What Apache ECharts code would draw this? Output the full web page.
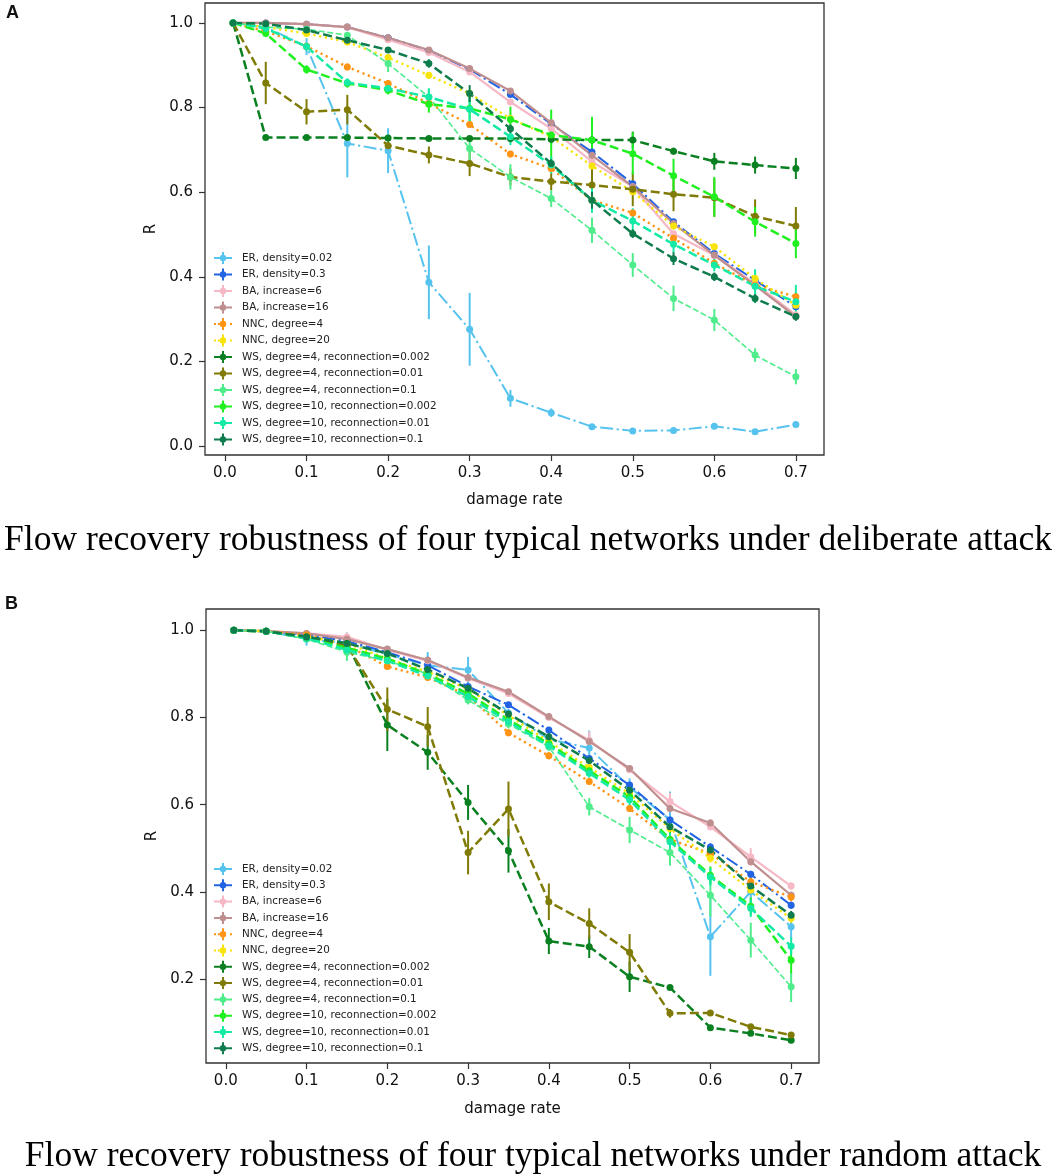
<!DOCTYPE html>
<html>
<head>
<meta charset="utf-8">
<script src="https://cdn.jsdelivr.net/npm/echarts@6/dist/echarts.min.js"></script>
<style>
html, body { margin: 0; padding: 0; background: #fff; }
#main { width: 1052px; height: 1174px; }
</style>
</head>
<body>
<div id="main"></div>
<script>
var chart = echarts.init(document.getElementById('main'), null, { renderer: 'canvas' });

// damage rate (x values), same for both panels
var damageRate = [0.01, 0.05, 0.1, 0.15, 0.2, 0.25, 0.3, 0.35, 0.4, 0.45, 0.5, 0.55, 0.6, 0.65, 0.7];
var xTicks = [0, 0.1, 0.2, 0.3, 0.4, 0.5, 0.6, 0.7];
var yTicksA = [0, 0.2, 0.4, 0.6, 0.8, 1.0];
var yTicksB = [0.2, 0.4, 0.6, 0.8, 1.0];

var seriesNames = [
  'ER, density=0.02', 'ER, density=0.3', 'BA, increase=6', 'BA, increase=16',
  'NNC, degree=4', 'NNC, degree=20',
  'WS, degree=4, reconnection=0.002', 'WS, degree=4, reconnection=0.01', 'WS, degree=4, reconnection=0.1',
  'WS, degree=10, reconnection=0.002', 'WS, degree=10, reconnection=0.01', 'WS, degree=10, reconnection=0.1'
];

// ---- panel A: deliberate attack ----
var er002A = [1.0, 0.99, 0.944, 0.715, 0.698, 0.387, 0.276, 0.113, 0.079, 0.046, 0.036, 0.037, 0.047, 0.034, 0.051];
var er03A = [1.0, 1.0, 0.997, 0.99, 0.965, 0.935, 0.89, 0.831, 0.761, 0.695, 0.62, 0.53, 0.455, 0.392, 0.329];
var ba6A = [1.0, 1.0, 0.997, 0.99, 0.96, 0.93, 0.884, 0.813, 0.75, 0.672, 0.613, 0.502, 0.451, 0.384, 0.31];
var ba16A = [1.0, 1.0, 0.997, 0.99, 0.965, 0.936, 0.892, 0.839, 0.764, 0.687, 0.613, 0.526, 0.451, 0.38, 0.306];
var nnc4A = [1.0, 0.98, 0.945, 0.896, 0.857, 0.81, 0.76, 0.69, 0.656, 0.581, 0.551, 0.491, 0.432, 0.38, 0.353];
var nnc20A = [1.0, 0.99, 0.975, 0.955, 0.918, 0.876, 0.833, 0.774, 0.731, 0.662, 0.601, 0.52, 0.471, 0.396, 0.333];
var ws4r0002A = [1.0, 0.729, 0.729, 0.729, 0.728, 0.727, 0.727, 0.727, 0.725, 0.723, 0.723, 0.697, 0.673, 0.664, 0.656];
var ws4r001A = [1.0, 0.858, 0.79, 0.795, 0.71, 0.688, 0.668, 0.636, 0.625, 0.617, 0.607, 0.595, 0.587, 0.543, 0.52];
var ws4r01A = [1.0, 0.99, 0.985, 0.971, 0.904, 0.825, 0.703, 0.636, 0.585, 0.51, 0.428, 0.349, 0.298, 0.215, 0.164];
var ws10r0002A = [1.0, 0.975, 0.89, 0.857, 0.841, 0.808, 0.798, 0.772, 0.735, 0.723, 0.691, 0.639, 0.589, 0.53, 0.479];
var ws10r001A = [1.0, 0.987, 0.944, 0.859, 0.845, 0.825, 0.796, 0.731, 0.664, 0.581, 0.532, 0.477, 0.428, 0.378, 0.341];
var ws10r01A = [1.0, 0.998, 0.983, 0.959, 0.936, 0.904, 0.833, 0.75, 0.668, 0.581, 0.502, 0.443, 0.4, 0.349, 0.306];

// error bar half lengths, panel A
var er002AErr = [0, 0.005, 0.02, 0.08, 0.053, 0.087, 0.086, 0.02, 0.01, 0.005, 0.004, 0.005, 0.005, 0.005, 0.005];
var er03AErr = [0, 0, 0.003, 0.004, 0.005, 0.005, 0.005, 0.006, 0.006, 0.006, 0.006, 0.006, 0.006, 0.006, 0.006];
var ba6AErr = [0, 0, 0.003, 0.004, 0.005, 0.005, 0.005, 0.006, 0.006, 0.006, 0.006, 0.006, 0.006, 0.006, 0.006];
var ba16AErr = [0, 0, 0.003, 0.004, 0.005, 0.005, 0.005, 0.006, 0.006, 0.006, 0.006, 0.006, 0.006, 0.006, 0.006];
var nnc4AErr = [0, 0.004, 0.006, 0.008, 0.008, 0.008, 0.008, 0.008, 0.008, 0.008, 0.008, 0.008, 0.008, 0.008, 0.01];
var nnc20AErr = [0, 0.004, 0.006, 0.008, 0.008, 0.008, 0.008, 0.008, 0.008, 0.008, 0.008, 0.008, 0.008, 0.008, 0.01];
var ws4r0002AErr = [0, 0, 0, 0, 0.005, 0.005, 0.005, 0.01, 0.01, 0.025, 0.02, 0.008, 0.02, 0.02, 0.025];
var ws4r001AErr = [0, 0.05, 0.03, 0.035, 0.01, 0.02, 0.03, 0.02, 0.02, 0.04, 0.04, 0.04, 0.045, 0.04, 0.045];
var ws4r01AErr = [0, 0.005, 0.005, 0.005, 0.02, 0.02, 0.03, 0.03, 0.02, 0.03, 0.028, 0.03, 0.026, 0.016, 0.018];
var ws10r0002AErr = [0, 0.005, 0.01, 0.01, 0.01, 0.02, 0.03, 0.03, 0.06, 0.055, 0.05, 0.04, 0.047, 0.035, 0.035];
var ws10r001AErr = [0, 0.005, 0.01, 0.01, 0.01, 0.02, 0.03, 0.02, 0.02, 0.03, 0.03, 0.02, 0.015, 0.04, 0.04];
var ws10r01AErr = [0, 0.003, 0.005, 0.005, 0.005, 0.01, 0.02, 0.01, 0.01, 0.02, 0.01, 0.015, 0.01, 0.01, 0.01];

// ---- panel B: random attack ----
var er002B = [1.0, 0.998, 0.98, 0.97, 0.945, 0.92, 0.909, 0.81, 0.75, 0.73, 0.64, 0.565, 0.297, 0.40, 0.32];
var er03B = [1.0, 0.998, 0.99, 0.975, 0.95, 0.92, 0.871, 0.829, 0.771, 0.706, 0.645, 0.565, 0.503, 0.44, 0.369];
var ba6B = [1.0, 0.998, 0.993, 0.985, 0.955, 0.93, 0.89, 0.855, 0.8, 0.748, 0.68, 0.607, 0.549, 0.48, 0.413];
var ba16B = [1.0, 0.998, 0.993, 0.98, 0.957, 0.932, 0.892, 0.859, 0.802, 0.745, 0.683, 0.591, 0.558, 0.469, 0.392];
var nnc4B = [1.0, 0.998, 0.99, 0.965, 0.917, 0.892, 0.85, 0.765, 0.712, 0.653, 0.591, 0.52, 0.488, 0.423, 0.388];
var nnc20B = [1.0, 0.998, 0.985, 0.97, 0.935, 0.905, 0.865, 0.805, 0.745, 0.685, 0.625, 0.545, 0.477, 0.404, 0.339];
var ws4r0002B = [1.0, 0.998, 0.985, 0.97, 0.783, 0.72, 0.605, 0.494, 0.287, 0.274, 0.205, 0.18, 0.088, 0.075, 0.059];
var ws4r001B = [1.0, 0.998, 0.985, 0.965, 0.819, 0.779, 0.49, 0.59, 0.377, 0.327, 0.261, 0.121, 0.122, 0.09, 0.071];
var ws4r01B = [1.0, 0.998, 0.98, 0.95, 0.93, 0.9, 0.84, 0.785, 0.733, 0.595, 0.542, 0.49, 0.392, 0.289, 0.182];
var ws10r0002B = [1.0, 0.998, 0.982, 0.96, 0.935, 0.9, 0.855, 0.795, 0.74, 0.678, 0.618, 0.52, 0.438, 0.367, 0.243];
var ws10r001B = [1.0, 0.998, 0.982, 0.955, 0.93, 0.895, 0.848, 0.79, 0.735, 0.672, 0.611, 0.515, 0.434, 0.362, 0.275];
var ws10r01B = [1.0, 0.998, 0.985, 0.97, 0.947, 0.91, 0.867, 0.808, 0.756, 0.701, 0.633, 0.549, 0.496, 0.413, 0.346];

var er002BErr = [0, 0.003, 0.015, 0.025, 0.01, 0.03, 0.03, 0.01, 0.01, 0.04, 0.02, 0.065, 0.09, 0.04, 0.03];
var er03BErr = [0, 0, 0.003, 0.004, 0.005, 0.005, 0.005, 0.006, 0.006, 0.006, 0.006, 0.008, 0.008, 0.008, 0.008];
var ba6BErr = [0, 0, 0.003, 0.01, 0.005, 0.005, 0.005, 0.006, 0.006, 0.02, 0.006, 0.02, 0.008, 0.02, 0.008];
var ba16BErr = [0, 0, 0.003, 0.004, 0.005, 0.005, 0.005, 0.006, 0.006, 0.006, 0.006, 0.008, 0.008, 0.008, 0.008];
var nnc4BErr = [0, 0, 0.003, 0.005, 0.006, 0.006, 0.006, 0.008, 0.008, 0.008, 0.008, 0.01, 0.01, 0.01, 0.01];
var nnc20BErr = [0, 0, 0.003, 0.005, 0.006, 0.006, 0.006, 0.008, 0.008, 0.008, 0.008, 0.01, 0.01, 0.01, 0.01];
var ws4r0002BErr = [0, 0, 0.005, 0.01, 0.06, 0.04, 0.04, 0.05, 0.03, 0.026, 0.035, 0.005, 0.005, 0.005, 0.005];
var ws4r001BErr = [0, 0, 0.005, 0.01, 0.05, 0.045, 0.05, 0.063, 0.042, 0.035, 0.042, 0.01, 0.005, 0.005, 0.005];
var ws4r01BErr = [0, 0, 0.005, 0.02, 0.01, 0.01, 0.01, 0.01, 0.01, 0.02, 0.03, 0.03, 0.05, 0.04, 0.035];
var ws10r0002BErr = [0, 0, 0.005, 0.01, 0.01, 0.01, 0.01, 0.01, 0.01, 0.01, 0.015, 0.02, 0.02, 0.02, 0.03];
var ws10r001BErr = [0, 0, 0.005, 0.01, 0.01, 0.01, 0.01, 0.01, 0.01, 0.01, 0.015, 0.02, 0.02, 0.02, 0.02];
var ws10r01BErr = [0, 0, 0.004, 0.005, 0.005, 0.006, 0.006, 0.008, 0.008, 0.008, 0.008, 0.01, 0.01, 0.01, 0.01];

var panelA = [er002A, er03A, ba6A, ba16A, nnc4A, nnc20A, ws4r0002A, ws4r001A, ws4r01A, ws10r0002A, ws10r001A, ws10r01A];
var panelAErr = [er002AErr, er03AErr, ba6AErr, ba16AErr, nnc4AErr, nnc20AErr, ws4r0002AErr, ws4r001AErr, ws4r01AErr, ws10r0002AErr, ws10r001AErr, ws10r01AErr];
var panelB = [er002B, er03B, ba6B, ba16B, nnc4B, nnc20B, ws4r0002B, ws4r001B, ws4r01B, ws10r0002B, ws10r001B, ws10r01B];
var panelBErr = [er002BErr, er03BErr, ba6BErr, ba16BErr, nnc4BErr, nnc20BErr, ws4r0002BErr, ws4r001BErr, ws4r01BErr, ws10r0002BErr, ws10r001BErr, ws10r01BErr];

// styles
var colors = ['#55c3ee', '#2163e3', '#f7b8c6', '#bf8e8e', '#ff9414', '#f8e40a',
              '#0a8020', '#807b06', '#4fec8c', '#1ff01f', '#14eaa5', '#0e7c4c'];
var dashDot = [13, 3.5, 2.2, 3.5], dashed = [9, 4], dotted = [2.2, 3.6], solid = 'solid';
var lineTypes = [dashDot, dashDot, solid, solid, dotted, dotted, dashed, dashed, [6, 2.6], dashed, dashed, dashed];
var lineWidths = [2, 2, 2.2, 2.2, 2.4, 2.4, 2.5, 2.5, 1.6, 2.5, 2.5, 2.5];

var plusIcon = 'path://M0,5 L18,5 L18,7 L0,7 Z M8,0 L10,0 L10,12 L8,12 Z M12.2,6 A3.2,3.2 0 1 1 5.8,6 A3.2,3.2 0 1 1 12.2,6 Z';
var dotIcon = 'path://M0,5 L2,5 L2,7 L0,7 Z M3.8,5 L5.8,5 L5.8,7 L3.8,7 Z M8,0 L10,0 L10,12 L8,12 Z M12.2,6 A3.2,3.2 0 1 1 5.8,6 A3.2,3.2 0 1 1 12.2,6 Z M16,5 L18,5 L18,7 L16,7 Z';

function buildSeries(values, errs, axisIdx) {
  var out = [];
  values.forEach(function (vals, k) {
    out.push({
      type: 'line',
      name: seriesNames[k],
      xAxisIndex: axisIdx,
      yAxisIndex: axisIdx,
      data: vals.map(function (v, i) { return [damageRate[i], v]; }),
      symbol: 'circle',
      symbolSize: 7,
      showAllSymbol: true,
      itemStyle: { color: colors[k], borderWidth: 0 },
      lineStyle: { color: colors[k], width: lineWidths[k], type: lineTypes[k], cap: 'butt' },
      emphasis: { disabled: true },
      z: 2
    });
    out.push({
      type: 'custom',
      name: seriesNames[k] + ' (err)',
      xAxisIndex: axisIdx,
      yAxisIndex: axisIdx,
      data: vals.map(function (v, i) { return [damageRate[i], v, errs[k][i]]; }),
      renderItem: function (params, api) {
        var x = api.value(0), y = api.value(1), e = api.value(2);
        var top = api.coord([x, y + e]);
        var bot = api.coord([x, y - e]);
        return {
          type: 'line',
          shape: { x1: top[0], y1: top[1], x2: bot[0], y2: bot[1] },
          style: { stroke: colors[k], lineWidth: 2 }
        };
      },
      silent: true,
      z: 2
    });
  });
  return out;
}

function legendFor(top, gap) {
  return {
    orient: 'vertical',
    left: 214,
    top: top,
    padding: 0,
    itemWidth: 18,
    itemHeight: 12,
    itemGap: gap,
    selectedMode: false,
    itemStyle: { borderWidth: 0 },
    textStyle: { fontFamily: 'DejaVu Sans', fontSize: 10.4, color: '#222', lineHeight: 12, padding: [0, 0, 0, 5] },
    data: seriesNames.map(function (n, k) {
      return { name: n, icon: (k === 4 || k === 5) ? dotIcon : plusIcon };
    })
  };
}

var fmt = function (v) { return v.toFixed(1); };
var labelFont = { fontFamily: 'DejaVu Sans', fontSize: 15, color: '#111' };

function xAxisFor(gridIdx, gap) {
  return {
    type: 'value', gridIndex: gridIdx, min: -0.0245, max: 0.7345,
    name: 'damage rate', nameLocation: 'middle', nameGap: gap,
    nameTextStyle: labelFont,
    axisLine: { show: false, onZero: false },
    splitLine: { show: false },
    axisTick: { show: true, length: 6, lineStyle: { color: '#333', width: 1.2 }, customValues: xTicks },
    axisLabel: Object.assign({ margin: 11, formatter: fmt, customValues: xTicks }, labelFont)
  };
}
function yAxisFor(gridIdx, min, max, ticks) {
  return {
    type: 'value', gridIndex: gridIdx, min: min, max: max,
    name: 'R', nameLocation: 'middle', nameGap: 27,
    nameTextStyle: labelFont,
    axisLine: { show: false, onZero: false },
    splitLine: { show: false },
    axisTick: { show: true, length: 6, lineStyle: { color: '#333', width: 1.2 }, customValues: ticks },
    axisLabel: Object.assign({ margin: 12, formatter: fmt, customValues: ticks }, labelFont)
  };
}

var captionStyle = { font: '35.5px "Liberation Serif"', fill: '#000', align: 'center', verticalAlign: 'middle' };

var option = {
  animation: false,
  backgroundColor: '#fff',
  grid: [
    { left: 205, top: 3, width: 619, height: 452, show: true, borderColor: '#333', borderWidth: 1.3, backgroundColor: 'transparent' },
    { left: 206, top: 609, width: 613, height: 454, show: true, borderColor: '#333', borderWidth: 1.3, backgroundColor: 'transparent' }
  ],
  xAxis: [xAxisFor(0, 38), xAxisFor(1, 39)],
  yAxis: [yAxisFor(0, -0.021, 1.047, yTicksA), yAxisFor(1, 0.007, 1.049, yTicksB)],
  legend: [legendFor(252, 4.5), legendFor(863, 4.3)],
  graphic: [
    { type: 'text', left: 6, top: 4, style: { text: 'A', font: 'bold 18px "Liberation Sans"', fill: '#111' } },
    { type: 'text', left: 5, top: 595, style: { text: 'B', font: 'bold 18px "Liberation Sans"', fill: '#111' } },
    { type: 'text', x: 528, y: 541, style: Object.assign({ text: 'Flow recovery robustness of four typical networks under deliberate attack' }, captionStyle) },
    { type: 'text', x: 533, y: 1157, style: Object.assign({ text: 'Flow recovery robustness of four typical networks under random attack' }, captionStyle) }
  ],
  series: buildSeries(panelA, panelAErr, 0).concat(buildSeries(panelB, panelBErr, 1))
};

chart.setOption(option);
</script>
</body>
</html>
